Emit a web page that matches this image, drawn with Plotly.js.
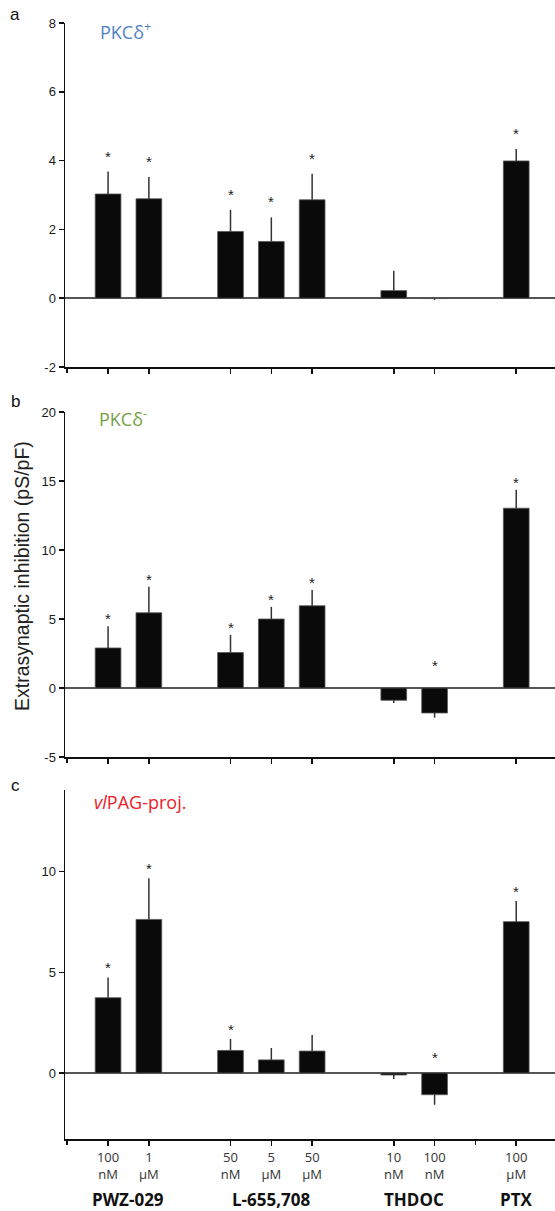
<!DOCTYPE html>
<html>
<head>
<meta charset="utf-8">
<script src="https://cdn.plot.ly/plotly-3.0.1.min.js"></script>
<style>html,body{margin:0;padding:0;background:#fff;}#chart{width:555px;height:1211px;}</style>
</head>
<body>
<div id="chart"></div>
<script>
// ---- data ----
const xPos = [1, 2, 4, 5, 6, 8, 9, 11];
const tickLabels = ['100<br>nM', '1<br>µM', '50<br>nM', '5<br>µM', '50<br>µM', '10<br>nM', '100<br>nM', '100<br>µM'];
const groupNames = ['PWZ-029', 'L-655,708', 'THDOC', 'PTX'];
const groupCenters = [1.5, 5, 8.5, 11];

const valuesA = [3.03, 2.89, 1.94, 1.65, 2.86, 0.22, -0.01, 3.99];
const errorsA = [0.65, 0.63, 0.63, 0.70, 0.76, 0.58, 0.04, 0.35];
const sigA    = [1, 1, 1, 1, 1, 0, 0, 1];

const valuesB = [2.90, 5.45, 2.57, 5.00, 5.96, -0.89, -1.81, 13.03];
const errorsB = [1.58, 1.88, 1.28, 0.88, 1.14, 0.19, 0.34, 1.33];
const sigB    = [1, 1, 1, 1, 1, 0, 1, 1];

const valuesC = [3.74, 7.63, 1.12, 0.65, 1.09, -0.10, -1.08, 7.52];
const errorsC = [1.01, 2.04, 0.57, 0.59, 0.80, 0.20, 0.50, 1.02];
const sigC    = [1, 1, 1, 0, 0, 0, 1, 1];

const yTicksA = [-2, 0, 2, 4, 6, 8];
const yTicksB = [-5, 0, 5, 10, 15, 20];
const yTicksC = [0, 5, 10];
const extraTicksC = [0, 10];
const extraTicksAB = [0];

const panelTitles = ['PKCδ<sup>+</sup>', 'PKCδ<sup>-</sup>', '<i>vl</i>PAG-proj.'];
const panelColors = ['#4f81c4', '#76a046', '#ec2129'];
const panelLetters = ['a', 'b', 'c'];
const yTitle = 'Extrasynaptic inhibition (pS/pF)';

// ---- geometry helpers (pixel -> paper) ----
const M = {l: 65, r: 0, t: 23, b: 72};
const W = 555, H = 1211;
const PW = W - M.l - M.r, PH = H - M.t - M.b;
const px = x => (x - M.l) / PW;
const py = y => (H - M.b - y) / PH;

function barTrace(vals, errs, xa, ya) {
  return {
    type: 'bar', x: xPos, y: vals, xaxis: xa, yaxis: ya, width: 0.63,
    marker: {color: '#0a0a0a', line: {color: '#555', width: 0.8}},
    error_y: {
      type: 'data', symmetric: false,
      array: vals.map((v, i) => v >= 0 ? errs[i] : 0),
      arrayminus: vals.map((v, i) => v < 0 ? errs[i] : 0),
      color: '#333', thickness: 1.5, width: 0
    },
    hoverinfo: 'none', showlegend: false
  };
}

const data = [
  barTrace(valuesA, errorsA, 'x', 'y'),
  barTrace(valuesB, errorsB, 'x2', 'y2'),
  barTrace(valuesC, errorsC, 'x3', 'y3')
];

const annotations = [];
function stars(vals, errs, sig, xr, yr, shiftPos, shiftNeg) {
  vals.forEach((v, i) => {
    if (!sig[i]) return;
    const top = v >= 0 ? v + errs[i] : 0;
    annotations.push({
      x: xPos[i], y: top, xref: xr, yref: yr, text: '*', showarrow: false,
      xanchor: 'center', yanchor: 'bottom', yshift: v >= 0 ? shiftPos : shiftNeg,
      font: {family: 'Liberation Sans, Arial', size: 15, color: '#222'}
    });
  });
}
stars(valuesA, errorsA, sigA, 'x', 'y', 5, 5);
stars(valuesB, errorsB, sigB, 'x2', 'y2', -3, 12);
stars(valuesC, errorsC, sigC, 'x3', 'y3', -1, 5);

const letterY = [14, 402, 785];
const titleY = [31, 418, 802];
const titleX = [98, 97, 92];
for (let k = 0; k < 3; k++) {
  annotations.push({
    x: px(15), y: py(letterY[k]), xref: 'paper', yref: 'paper', text: panelLetters[k],
    showarrow: false, xanchor: 'center', yanchor: 'middle',
    font: {family: 'Liberation Sans, Arial', size: 17, color: '#111'}
  });
  annotations.push({
    x: px(titleX[k]), y: py(titleY[k]), xref: 'paper', yref: 'paper', text: panelTitles[k],
    showarrow: false, xanchor: 'left', yanchor: 'middle',
    font: {family: 'Open Sans', size: 18, color: panelColors[k]}
  });
}
annotations.push({
  x: px(22), y: py(576), xref: 'paper', yref: 'paper', text: yTitle, textangle: -90,
  showarrow: false, xanchor: 'center', yanchor: 'middle',
  font: {family: 'Liberation Sans, Arial', size: 19.5, color: '#222'}
});
groupNames.forEach((g, i) => {
  annotations.push({
    x: groupCenters[i], y: py(1199), xref: 'x3', yref: 'paper', text: '<b>' + g + '</b>',
    showarrow: false, xanchor: 'center', yanchor: 'middle',
    font: {family: 'Open Sans', size: 17, color: '#111'}
  });
});

const xRange = [-0.055, 11.95];
const xBase = {
  range: xRange, showline: true, linecolor: '#111', linewidth: 2, ticks: 'outside',
  ticklen: 5, tickwidth: 1.5, tickcolor: '#111', showgrid: false, zeroline: false,
  fixedrange: true
};
const extraX = (anchor, over, vals) => ({
  range: xRange, overlaying: over, anchor: anchor, showline: false, ticks: 'outside',
  ticklen: 5, tickwidth: 1.5, tickcolor: '#111', showgrid: false, zeroline: false,
  tickmode: 'array', tickvals: vals, showticklabels: false, fixedrange: true, side: 'bottom'
});

const yBase = {
  showline: true, linecolor: '#111', linewidth: 1.5, ticks: 'outside', ticklen: 5,
  tickwidth: 1.5, tickcolor: '#111', showgrid: false, zeroline: true,
  zerolinecolor: '#555', zerolinewidth: 1.5, fixedrange: true, tickmode: 'array',
  tickfont: {family: 'Liberation Sans, Arial', size: 13, color: '#1a1a1a'}
};
const yAxis = (anchor, domain, range, ticks) => Object.assign({}, yBase, {
  anchor: anchor, domain: domain, range: range, tickvals: ticks, ticktext: ticks.map(String)
});

// dummy traces so the overlay axes (extra unlabeled ticks) get drawn
data.push({type: 'scatter', x: [], y: [], xaxis: 'x4', yaxis: 'y', showlegend: false, hoverinfo: 'none'});
data.push({type: 'scatter', x: [], y: [], xaxis: 'x5', yaxis: 'y2', showlegend: false, hoverinfo: 'none'});
data.push({type: 'scatter', x: [], y: [], xaxis: 'x6', yaxis: 'y3', showlegend: false, hoverinfo: 'none'});

const layout = {
  width: W, height: H, margin: M, paper_bgcolor: '#fff', plot_bgcolor: 'rgba(0,0,0,0)',
  showlegend: false, bargap: 0,
  xaxis: Object.assign({}, xBase, {anchor: 'y', tickmode: 'array', tickvals: xPos, showticklabels: false}),
  xaxis2: Object.assign({}, xBase, {anchor: 'y2', tickmode: 'array', tickvals: xPos, showticklabels: false}),
  xaxis3: Object.assign({}, xBase, {anchor: 'y3', tickmode: 'array', tickvals: xPos, ticktext: tickLabels,
    tickfont: {family: 'Open Sans', size: 13, color: '#333'}}),
  xaxis4: extraX('y', 'x', extraTicksAB),
  xaxis5: extraX('y2', 'x2', extraTicksAB),
  xaxis6: extraX('y3', 'x3', extraTicksC),
  yaxis: yAxis('x', [py(367), 1], [-2, 8], yTicksA),
  yaxis2: yAxis('x2', [py(757), py(412)], [-5, 20], yTicksB),
  yaxis3: yAxis('x3', [0, py(790)], [-3.28, 14.06], yTicksC),
  annotations: annotations
};

Plotly.newPlot('chart', data, layout, {staticPlot: true, displayModeBar: false});
</script>
</body>
</html>
